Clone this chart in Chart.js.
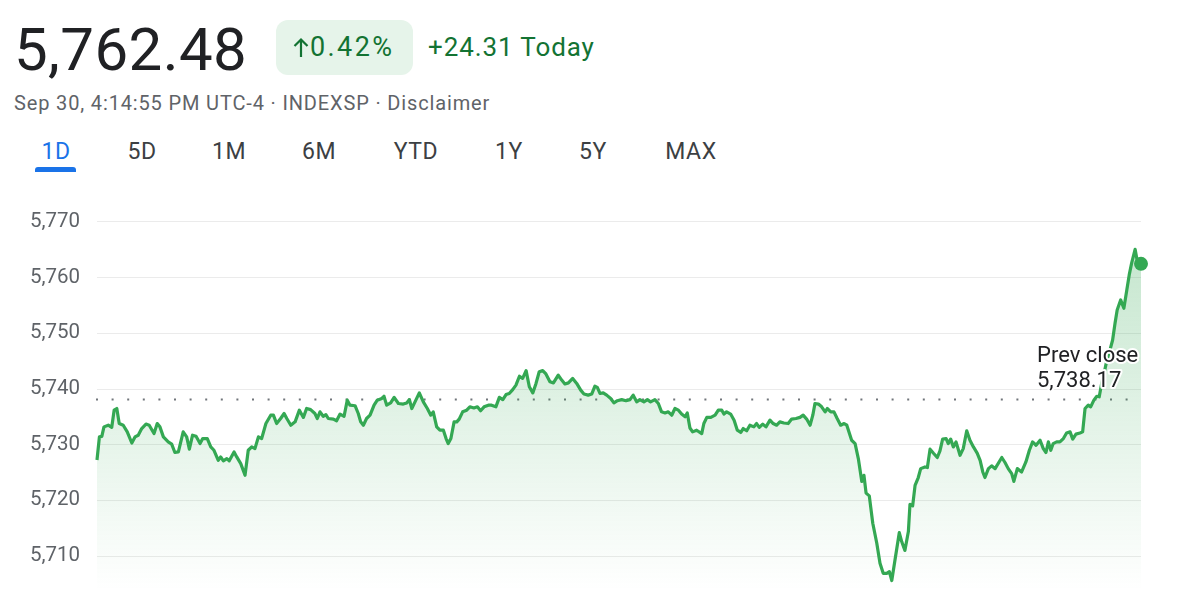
<!DOCTYPE html>
<html>
<head>
<meta charset="utf-8">
<title>S&P 500 1D</title>
<script src="https://cdn.jsdelivr.net/npm/chart.js@4.4.1/dist/chart.umd.min.js"></script>
<style>
  body { margin: 0; width: 1200px; height: 600px; background: #fff; overflow: hidden; position: relative; font-family: Roboto, Arial, sans-serif; }
  .price { position: absolute; left: 14px; top: 14px; font-size: 60px; color: #202124; letter-spacing: 0.4px; }
  .badge { position: absolute; left: 276px; top: 20px; width: 137px; height: 55px; border-radius: 12px; background: #e6f4ea; }
  .badge svg { position: absolute; left: 17px; top: 17px; }
  .badge .pct { position: absolute; left: 34px; top: 11px; font-size: 27px; color: #137333; letter-spacing: 2.4px; white-space: nowrap; }
  .today { position: absolute; left: 428px; top: 32px; font-size: 26px; color: #137333; letter-spacing: 0.9px; }
  .sub { position: absolute; left: 14px; top: 91px; font-size: 20px; color: #5f6368; letter-spacing: 0.85px; white-space: nowrap; }
  .tab { position: absolute; top: 138px; font-size: 23px; color: #3c4043; letter-spacing: 0.6px; transform: translateX(-50%); }
  .tab.on { color: #1a73e8; }
  .bar { position: absolute; left: 35px; top: 167px; width: 41px; height: 5px; background: #1a73e8; border-radius: 3px 3px 0 0; }
  #wrap { position: absolute; left: 0; top: 190px; width: 1200px; height: 410px; }
</style>
</head>
<body>
<div class="price">5,762.48</div>
<div class="badge">
  <svg width="16" height="21" viewBox="0 0 16 21"><path d="M8 20V2.5M1.5 9L8 2.5L14.5 9" fill="none" stroke="#137333" stroke-width="2.2"/></svg>
  <span class="pct">0.42%</span>
</div>
<div class="today">+24.31 Today</div>
<div class="sub">Sep 30, 4:14:55 PM UTC-4 · INDEXSP · Disclaimer</div>
<div id="tabs"></div>
<div class="bar"></div>
<div id="wrap"><canvas id="chart" width="1200" height="410"></canvas></div>
<script>
// minutes since 9:30 open
const minutes = [0,0.9,1.8,2.6,4.2,5.5,6.4,7.4,8.3,9.8,11.3,13.0,14.2,15.4,16.7,18.3,19.5,21.3,22.5,23.5,24.8,26.6,27.9,29.1,30.4,32.2,33.5,34.5,35.7,37.0,38.5,39.5,41.2,42.5,43.7,45.3,46.2,47.2,48.5,49.4,51.2,52.2,53.7,55.3,
  56.5,57.8,59.0,60.3,61.5,63.1,64.9,65.9,67.1,68.6,69.9,70.9,72.4,74.0,75.6,77.1,78.3,79.8,81.4,82.3,83.3,84.5,85.5,86.4,88.3,89.5,90.8,92.3,93.5,94.5,96.4,97.6,98.5,99.5,100.7,102.0,103.5,104.7,106.4,107.2,108.2,109.7,
  111.0,112.6,114.4,115.7,116.7,117.6,118.8,120.4,121.9,123.4,124.7,125.6,126.9,128.1,129.4,130.4,131.2,132.2,133.4,134.4,135.3,136.6,138.1,139.3,140.8,142.1,143.3,144.6,146.2,147.4,149.0,150.3,151.6,152.8,154.0,155.3,156.5,157.8,159.0,160.3,161.5,162.8,164.0,165.2,166.5,167.7,
  169.2,170.5,172.3,173.6,174.8,176.1,177.7,179.2,180.7,181.9,183.5,184.8,186.0,186.9,187.9,189.1,190.4,191.9,193.1,194.4,196.0,197.6,199.1,200.3,201.6,202.8,204.3,205.6,206.8,208.4,209.7,210.9,212.2,213.4,214.7,215.9,217.2,218.4,219.7,220.5,
  221.5,222.5,224.0,225.9,226.7,227.8,229.3,230.9,232.1,233.4,234.2,235.2,236.7,238.0,239.2,240.5,241.4,242.7,243.9,245.4,246.4,247.4,248.7,249.9,251.4,252.6,253.9,255.1,256.6,258.2,259.5,261.1,262.6,263.8,265.1,266.4,267.4,268.2,269.5,270.7,272.0,272.8,274.1,275.3,276.5,277.8,279.1,280.1,
  281.9,283.2,284.4,285.7,286.5,287.3,288.5,289.8,291.3,292.5,293.7,295.0,296.0,296.9,298.1,299.7,300.6,301.8,303.1,303.7,304.7,305.6,306.8,307.7,309.3,310.2,311.2,312.4,313.9,314.9,315.9,317.2,318.0,318.9,319.9,320.9,322.4,323.6,324.9,326.1,327.4,328.8,329.9,330.9,331.7,333.0,334.2,335.5,
  338.0,339.2,340.4,341.7,342.5,343.8,345.4,347.0,348.3,349.5,350.8,352.3,353.5,354.5,355.4,356.3,357.2,358.5,359.7,361.0,362.2,363.5,364.5,365.7,367.2,368.2,369.1,370.3,371.2,372.4,373.5,374.4,375.3,376.6,377.4,378.4,379.4,380.3,381.1,382.4,383.6,384.7,385.6,386.5,387.8,388.6,390];

const prices = [5727.25,5731.4,5731.5,5733.2,5733.5,5733.1,5736.2,5736.5,5733.8,5733.5,5732.3,5730.3,5731.4,5731.7,5732.9,5733.7,5733.5,5732.0,5733.8,5733.2,5731.4,5730.5,5730.1,5728.6,5728.7,5732.3,5731.4,5729.2,5731.7,5731.5,5730.2,5731.1,5731.1,5729.6,5729.0,5727.2,5727.8,5727.1,5727.5,5727.1,5728.7,5727.8,5726.6,5724.5,
  5729.0,5729.6,5729.3,5731.4,5731.1,5733.8,5735.3,5735.3,5733.8,5734.7,5735.6,5734.7,5733.5,5734.1,5736.2,5734.9,5736.5,5736.3,5735.6,5734.7,5735.9,5735.1,5735.4,5734.7,5734.6,5734.3,5735.5,5735.1,5738.0,5737.1,5737.0,5735.6,5734.1,5733.5,5734.7,5735.3,5737.1,5738.0,5738.3,5738.7,5737.1,5737.5,
  5738.5,5737.4,5737.3,5737.5,5738.1,5736.5,5737.7,5739.3,5737.7,5736.5,5735.3,5735.9,5733.2,5732.6,5732.6,5731.1,5730.2,5731.1,5734.1,5734.1,5734.6,5735.9,5736.2,5736.8,5736.6,5736.8,5736.1,5736.8,5737.1,5737.1,5736.8,5738.5,5738.1,5739.0,5739.2,5739.9,5740.7,5742.3,5741.9,5743.3,5740.4,5739.3,5741.0,5743.1,5743.3,5742.7,
  5741.3,5741.1,5742.5,5741.6,5740.9,5741.1,5741.9,5741.0,5739.8,5739.1,5738.9,5739.1,5740.5,5740.3,5739.2,5739.3,5738.9,5738.3,5737.5,5737.9,5738.1,5737.9,5738.1,5738.9,5737.7,5738.1,5737.7,5738.1,5737.7,5738.1,5737.4,5735.9,5735.7,5735.9,5735.3,5736.5,5736.2,5735.5,5735.0,5735.7,
  5733.0,5732.3,5732.6,5732.0,5733.8,5734.9,5734.9,5735.3,5736.2,5736.2,5735.5,5735.9,5735.5,5734.4,5732.6,5732.2,5732.9,5732.5,5733.5,5733.2,5733.8,5733.1,5733.7,5733.2,5734.4,5733.8,5733.5,5734.1,5733.9,5733.8,5734.6,5734.7,5734.9,5735.3,5734.6,5733.5,5735.3,5737.4,5737.3,5736.8,5735.9,5736.5,5735.9,5735.9,5734.7,5733.5,5733.8,5733.5,
  5730.8,5730.2,5727.5,5723.4,5724.5,5721.3,5720.8,5715.9,5712.3,5708.7,5706.9,5706.9,5707.2,5705.6,5709.3,5714.2,5712.6,5711.0,5714.4,5719.3,5719.0,5722.7,5724.1,5725.7,5726.0,5725.9,5729.2,5728.5,5727.7,5728.9,5731.0,5731.1,5730.2,5731.0,5729.6,5730.5,5728.1,5729.3,5732.5,5730.8,5729.6,5728.5,5727.2,5725.1,5724.1,5725.7,5726.2,5725.7,
  5727.7,5726.8,5725.7,5724.8,5723.4,5725.7,5725.1,5726.9,5729.0,5730.5,5729.9,5730.8,5729.3,5728.6,5730.5,5729.0,5730.2,5730.5,5730.5,5731.1,5732.1,5732.3,5731.0,5731.9,5732.1,5732.3,5736.5,5737.1,5736.8,5738.0,5738.7,5738.6,5741.0,5743.7,5745.5,5747.0,5748.8,5751.8,5754.2,5756.0,5754.5,5757.8,5760.5,5762.6,5765.1,5763.0,5762.48];

const yTicks = [5710, 5720, 5730, 5740, 5750, 5760, 5770];
const prevClose = 5738.17;
const ranges = ["1D", "5D", "1M", "6M", "YTD", "1Y", "5Y", "MAX"];
const rangeCenters = [56, 142, 229, 319, 416, 509, 593, 691];

const green = "#34a853";

// range tabs
const tabs = document.getElementById("tabs");
ranges.forEach((r, i) => {
  const el = document.createElement("div");
  el.className = "tab" + (i === 0 ? " on" : "");
  el.style.left = rangeCenters[i] + "px";
  el.textContent = r;
  tabs.appendChild(el);
});

const points = minutes.map((m, i) => ({ x: m, y: prices[i] }));

// dotted previous-close line plus its label
const prevClosePlugin = {
  id: "prevClose",
  beforeDatasetsDraw(chart) {
    const { ctx, chartArea } = chart;
    const y = Math.round(chart.scales.y.getPixelForValue(prevClose)) + 0.5;
    ctx.save();
    ctx.strokeStyle = "#70757a";
    ctx.lineWidth = 2;
    ctx.setLineDash([2, 13.6]);
    ctx.beginPath();
    ctx.moveTo(chartArea.left - 1, y);
    ctx.lineTo(chartArea.right - 4, y);
    ctx.stroke();
    ctx.restore();
  },
  afterDatasetsDraw(chart) {
    const { ctx, chartArea } = chart;
    const y = chart.scales.y.getPixelForValue(prevClose);
    ctx.save();
    ctx.font = "22px Roboto";
    ctx.textAlign = "left";
    ctx.textBaseline = "alphabetic";
    ctx.lineJoin = "round";
    const x = chartArea.right - 104;
    [["Prev close", y - 37], ["5,738.17", y - 12]].forEach(([t, ty]) => {
      ctx.strokeStyle = "#fff";
      ctx.lineWidth = 4;
      ctx.strokeText(t, x, ty);
      ctx.fillStyle = "#202124";
      ctx.fillText(t, x, ty);
    });
    ctx.restore();
  }
};

new Chart(document.getElementById("chart"), {
  type: "line",
  data: {
    datasets: [{
      data: points,
      borderColor: green,
      borderWidth: 3.2,
      borderJoinStyle: "round",
      tension: 0,
      clip: 12,
      fill: "start",
      backgroundColor: (c) => {
        const area = c.chart.chartArea;
        if (!area) return "rgba(52,168,83,0.1)";
        const g = c.chart.ctx.createLinearGradient(0, area.top, 0, area.bottom);
        g.addColorStop(0, "rgba(52,168,83,0.32)");
        g.addColorStop(1, "rgba(52,168,83,0)");
        return g;
      },
      pointRadius: (c) => c.dataIndex === points.length - 1 ? 7 : 0,
      pointBackgroundColor: green,
      pointBorderWidth: 0,
      pointHoverRadius: 0
    }]
  },
  options: {
    responsive: false,
    animation: false,
    layout: { padding: { left: 0, right: 59, top: 10, bottom: 10 } },
    plugins: { legend: { display: false }, tooltip: { enabled: false } },
    scales: {
      x: { type: "linear", min: 0, max: 390, display: false },
      y: {
        min: 5703.9,
        max: 5773.95,
        border: { display: false },
        grid: { color: "#ebebeb", lineWidth: 1, drawTicks: false },
        afterBuildTicks: (s) => { s.ticks = yTicks.map(v => ({ value: v })); },
        afterFit: (s) => { s.width = 97; s.paddingTop = 0; s.paddingBottom = 0; },
        ticks: {
          padding: 17,
          color: "#5f6368",
          font: { family: "Roboto", size: 20.5 },
          callback: (v) => v.toLocaleString("en-US")
        }
      }
    }
  },
  plugins: [prevClosePlugin]
});
</script>
</body>
</html>
